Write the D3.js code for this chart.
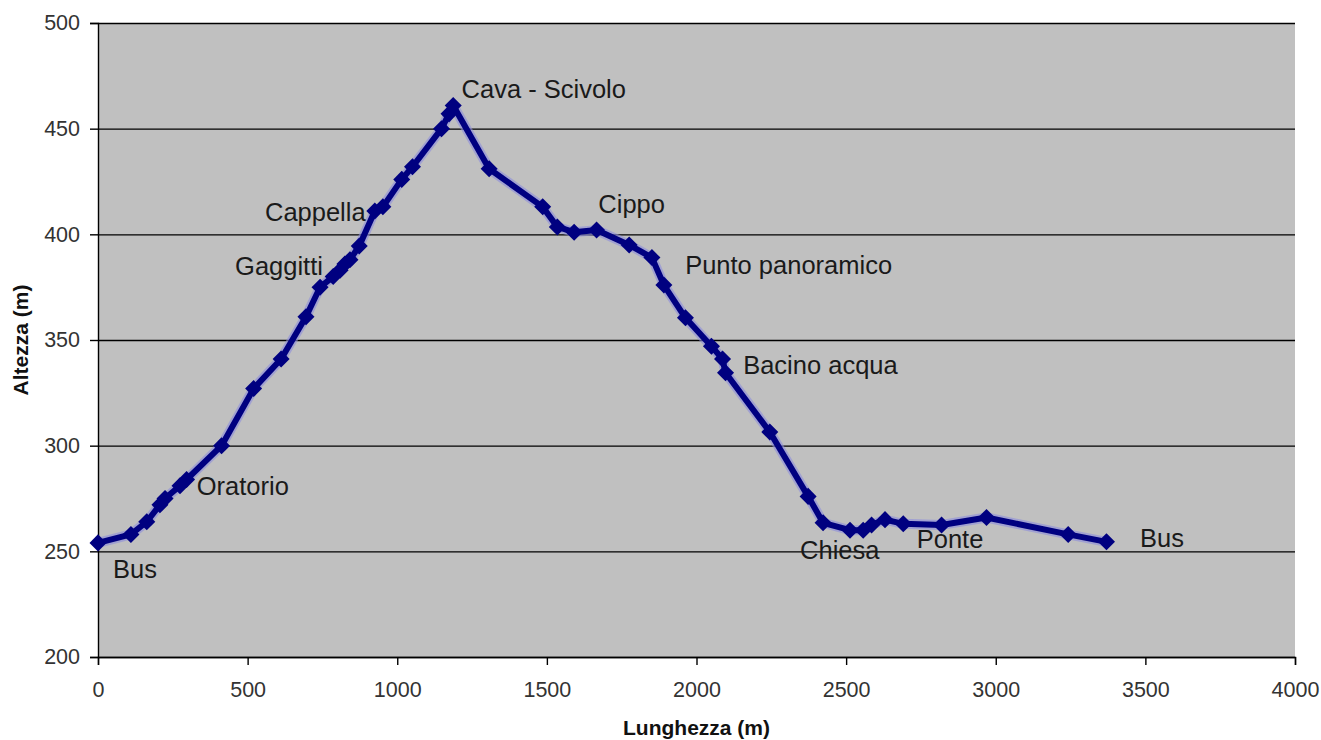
<!DOCTYPE html>
<html>
<head>
<meta charset="utf-8">
<script src="https://cdn.jsdelivr.net/npm/d3@7/dist/d3.min.js"></script>
<style>
  body { margin: 0; background: #fff; }
  text { font-family: "Liberation Sans", Arial, sans-serif; }
</style>
</head>
<body>
<div id="chart"></div>
<script>
// profilo del percorso: distanza (m) e altezza (m)
const distanza = [0, 110, 163, 207, 224, 274, 296, 413, 520, 612, 695, 742, 786, 809, 825, 842, 873,
  925, 952, 1015, 1051, 1148, 1173, 1187, 1307, 1486, 1535, 1591, 1666, 1775, 1851, 1891, 1963,
  2050, 2087, 2097, 2245, 2373, 2423, 2513, 2557, 2585, 2630, 2691, 2819, 2969, 3242, 3370];
const altezza = [254, 258, 264, 272, 275, 281, 284, 300, 327, 341, 361, 375, 380, 383, 386, 388, 394.5,
  411, 413, 426, 432, 450, 457, 461, 431, 413, 403.5, 401, 402, 395, 389, 376, 360.5,
  347, 341, 334.5, 306.5, 276, 263.5, 260, 260, 262.5, 265, 263, 262.5, 266, 258, 254.5];

// etichette dei punti notevoli (posizione in unita' del grafico)
const tappe = ["Bus", "Oratorio", "Gaggitti", "Cappella", "Cava - Scivolo", "Cippo",
  "Punto panoramico", "Bacino acqua", "Chiesa", "Ponte", "Bus"];
const tappeX = [50, 330, 458, 558, 1215, 1672, 1962, 2156, 2346, 2736, 3482];
const tappeY = [241.5, 281, 385, 410.5, 468.5, 414.5, 385.5, 338, 250.5, 256, 256.5];

const xTicks = [0, 500, 1000, 1500, 2000, 2500, 3000, 3500, 4000];
const yTicks = [200, 250, 300, 350, 400, 450, 500];

const margin = { top: 23, right: 26, bottom: 83, left: 98 },
  width = 1321 - margin.left - margin.right,
  height = 740 - margin.top - margin.bottom;

const svg = d3.select("#chart")
  .append("svg")
  .attr("width", 1321)
  .attr("height", 740);

const g = svg.append("g")
  .attr("transform", "translate(" + margin.left + "," + margin.top + ")");

const x = d3.scaleLinear().domain([0, 4000]).range([0, width]);
const y = d3.scaleLinear().domain([200, 500]).range([height, 0]);

// sfondo grigio dell'area del grafico
g.append("rect")
  .attr("width", width)
  .attr("height", height)
  .attr("fill", "#c0c0c0");

// griglia orizzontale
g.append("g")
  .attr("class", "grid")
  .call(d3.axisLeft(y).tickValues(yTicks).tickSize(-width).tickFormat(""))
  .call(s => s.select(".domain").remove())
  .selectAll("line")
  .attr("stroke", "#000")
  .attr("stroke-width", 1.4);

// assi
const xAxis = g.append("g")
  .attr("transform", "translate(0," + height + ")")
  .call(d3.axisBottom(x).tickValues(xTicks).tickFormat(d3.format("d")).tickSize(8).tickPadding(17));
const yAxis = g.append("g")
  .call(d3.axisLeft(y).tickValues(yTicks).tickFormat(d3.format("d")).tickSize(8).tickPadding(10));

[xAxis, yAxis].forEach(a => {
  a.select(".domain").attr("stroke", "#000").attr("stroke-width", 1.4);
  a.selectAll(".tick line").attr("stroke", "#000").attr("stroke-width", 1.4);
  a.selectAll(".tick text")
    .attr("fill", "#333")
    .style("font-size", "21.5px")
    .style("font-family", "'Liberation Sans', Arial, sans-serif");
});

// titoli degli assi
svg.append("text")
  .attr("x", margin.left + width / 2)
  .attr("y", 735)
  .attr("text-anchor", "middle")
  .attr("font-weight", "bold")
  .attr("font-size", 21)
  .attr("fill", "#111")
  .text("Lunghezza (m)");

svg.append("text")
  .attr("transform", "translate(28," + (margin.top + height / 2) + ") rotate(-90)")
  .attr("text-anchor", "middle")
  .attr("font-weight", "bold")
  .attr("font-size", 21)
  .attr("fill", "#111")
  .text("Altezza (m)");

// linea del profilo
const punti = distanza.map((d, i) => [d, altezza[i]]);

const line = d3.line()
  .x(d => x(d[0]))
  .y(d => y(d[1]));

g.append("path")
  .datum(punti)
  .attr("fill", "none")
  .attr("stroke", "#8c8cdc")
  .attr("stroke-opacity", 0.6)
  .attr("stroke-width", 10)
  .attr("stroke-linejoin", "round")
  .attr("d", line);

g.append("path")
  .datum(punti)
  .attr("fill", "none")
  .attr("stroke", "#000080")
  .attr("stroke-width", 6)
  .attr("stroke-linejoin", "round")
  .attr("d", line);

// marcatori a rombo
const rombo = d3.symbol().type(d3.symbolSquare).size(145);
g.selectAll(".marker")
  .data(punti)
  .enter()
  .append("path")
  .attr("class", "marker")
  .attr("transform", d => "translate(" + x(d[0]) + "," + y(d[1]) + ") rotate(45)")
  .attr("d", rombo)
  .attr("fill", "#000080");

// etichette
g.selectAll(".tappa")
  .data(tappe)
  .enter()
  .append("text")
  .attr("class", "tappa")
  .attr("x", (d, i) => x(tappeX[i]))
  .attr("y", (d, i) => y(tappeY[i]))
  .attr("dy", "0.35em")
  .attr("font-size", 25.5)
  .attr("fill", "#1a1a1a")
  .text(d => d);
</script>
</body>
</html>
